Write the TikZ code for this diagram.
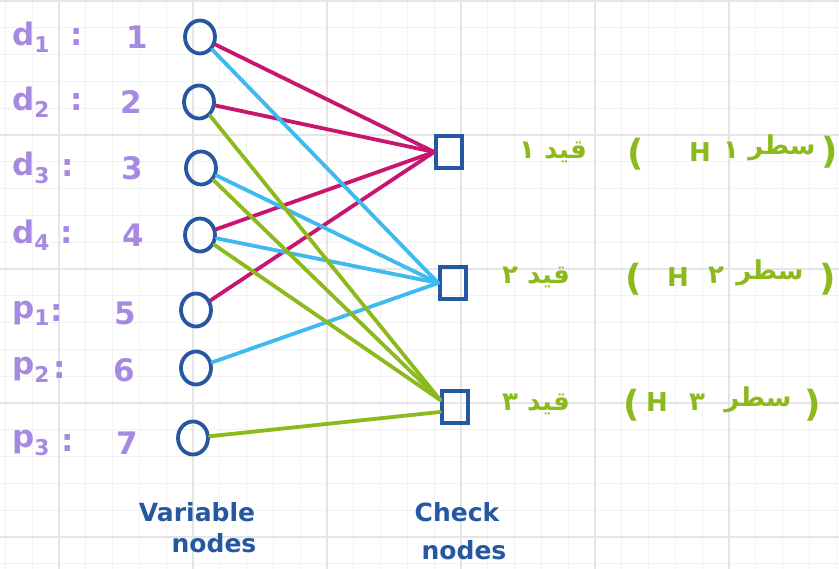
\documentclass[tikz,border=0pt]{standalone}
\usepackage{fontspec}
\usetikzlibrary{shapes.geometric}
\setmainfont{DejaVu Sans}
\newfontfamily\arabicfont[Script=Arabic]{DejaVu Sans}
\TeXXeTstate=1
\definecolor{lav}{RGB}{166,138,226}
\definecolor{nblue}{RGB}{38,88,162}
\definecolor{emag}{RGB}{200,22,112}
\definecolor{ecyan}{RGB}{62,186,240}
\definecolor{egreen}{RGB}{140,186,28}
\begin{document}
\begin{tikzpicture}[x=1pt,y=-1pt,
  minorline/.style={draw=black!5,line width=0.8pt},
  majorline/.style={draw=black!10,line width=1.6pt},
  varnode/.style={draw=nblue,line width=3.8pt,ellipse,minimum width=30pt,minimum height=33pt,inner sep=0pt},
  chknode/.style={draw=nblue,line width=3.6pt,rectangle,minimum width=26pt,minimum height=32pt,inner sep=0pt},
  edge/.style={line width=3.8pt,line cap=round},
  lbl/.style={text=lav,font=\fontsize{31}{33}\selectfont\bfseries,inner sep=0pt},
  btxt/.style={text=nblue,font=\fontsize{25}{27}\selectfont\bfseries,inner sep=0pt},
  gtxt/.style={text=egreen,font=\fontsize{26}{28}\selectfont\arabicfont\bfseries,inner sep=0pt},
  gpar/.style={text=egreen,font=\fontsize{36}{38}\selectfont\bfseries,inner sep=0pt}]
\fill[white] (0,0) rectangle (839,569);
\useasboundingbox (0,0) rectangle (839,569);
% grid
\foreach \i in {0,...,31} \draw[minorline] ({5.4+26.8*\i},0) -- ++(0,569);
\foreach \i in {0,...,21} \draw[minorline] (0,{1+26.8*\i}) -- ++(839,0);
\foreach \xx in {59,193,327,461,595,729} \draw[majorline] (\xx,0) -- ++(0,569);
\foreach \yy in {1,135,269,403,537} \draw[majorline] (0,\yy) -- ++(839,0);
% left labels
\foreach \n/\s/\y/\cx/\dig/\dx in {d/1/37/77/1/137, d/2/102/77/2/131, d/3/168/68/3/132, d/4/235/67/4/133, p/1/313/57/5/125, p/2/370/60/6/124, p/3/443/68/7/127}{
  \node[lbl,anchor=west] (lab\dig) at (12,\y) {\n\textsubscript{\s}};
  \node[lbl] (col\dig) at (\cx,\y) {:};
  \node[lbl] (num\dig) at (\dx,\y) {\dig};
}
% variable nodes
\node[varnode] (v1) at (200,37) {};
\node[varnode] (v2) at (199,102) {};
\node[varnode] (v3) at (201,168) {};
\node[varnode] (v4) at (200,235) {};
\node[varnode] (v5) at (196,310) {};
\node[varnode] (v6) at (196,368) {};
\node[varnode] (v7) at (193,438) {};
% check nodes
\node[chknode] (c1) at (449,152) {};
\node[chknode] (c2) at (453,283) {};
\node[chknode] (c3) at (455,407) {};
% edges check 1
\foreach \v in {v1,v2,v4,v5} \draw[edge,emag] (\v) -- (c1.west);
% edges check 2
\foreach \v in {v1,v3,v4,v6} \draw[edge,ecyan] (\v) -- (c2.west);
% edges check 3
\foreach \v in {v2,v3,v4} \draw[edge,egreen] (\v) -- ([yshift=7pt]c3.west);
\draw[edge,egreen] (v7) -- ([yshift=-5pt]c3.west);
% bottom labels
\node[btxt] (vl1) at (197,512) {Variable};
\node[btxt] (vl2) at (214,543) {nodes};
\node[btxt] (cl1) at (457,512) {Check};
\node[btxt] (cl2) at (464,550) {nodes};
% right labels
\node[gtxt] (q1) at (553,152) {\beginR قید ۱\endR};
\node[gtxt] (q2) at (536,277) {\beginR قید ۲\endR};
\node[gtxt] (q3) at (536,404) {\beginR قید ۳\endR};
\node[gpar] (po1) at (636,154) {(};
\node[gtxt] (h1) at (700,152) {H};
\node[gtxt] (n1) at (731,150) {۱};
\node[gtxt] (s1) at (782,148) {سطر};
\node[gpar] (pc1) at (830,152) {)};
\node[gpar] (po2) at (634,279) {(};
\node[gtxt] (h2) at (678,277) {H};
\node[gtxt] (n2) at (716,275) {۲};
\node[gtxt] (s2) at (770,273) {سطر};
\node[gpar] (pc2) at (828,279) {)};
\node[gpar] (po3) at (632,405) {(};
\node[gtxt] (h3) at (657,402) {H};
\node[gtxt] (n3) at (697,402) {۳};
\node[gtxt] (s3) at (758,400) {سطر};
\node[gpar] (pc3) at (813,405) {)};
\end{tikzpicture}
\end{document}
